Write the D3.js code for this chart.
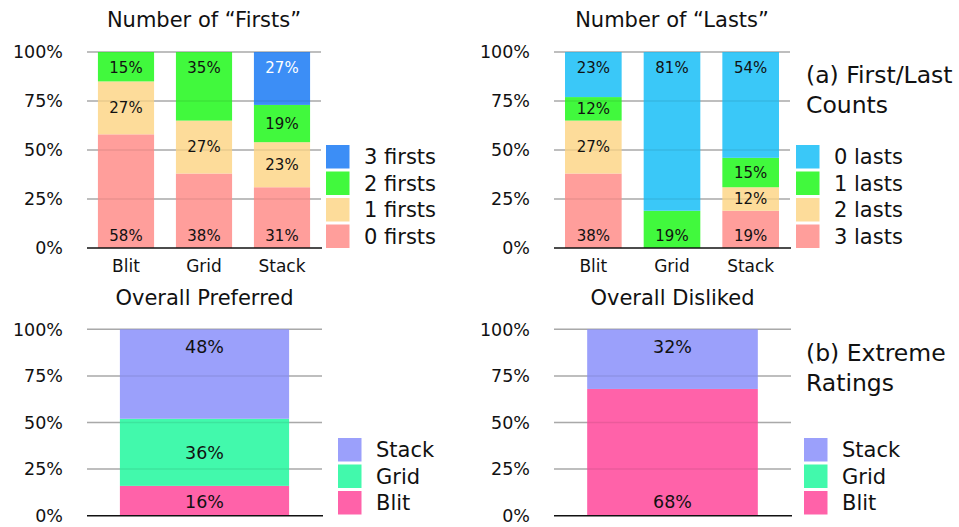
<!DOCTYPE html>
<html><head><meta charset="utf-8">
<script src="https://cdn.jsdelivr.net/npm/d3@7"></script>
<style>
html,body{margin:0;padding:0;background:#fff;}
text{font-family:"DejaVu Sans",sans-serif;fill:#111;}
</style></head>
<body><svg id="c" width="959" height="527"></svg>
<script>
// ---- data ----
const methods = ["Blit", "Grid", "Stack"];
const firstsKeys = ["0 firsts", "1 firsts", "2 firsts", "3 firsts"];
const firstsValues = {
  "0 firsts": [58, 38, 31],
  "1 firsts": [27, 27, 23],
  "2 firsts": [15, 35, 19],
  "3 firsts": [0, 0, 27]
};
const lastsKeys = ["3 lasts", "2 lasts", "1 lasts", "0 lasts"];
const lastsValues = {
  "3 lasts": [38, 0, 19],
  "2 lasts": [27, 0, 12],
  "1 lasts": [12, 19, 15],
  "0 lasts": [23, 81, 54]
};
const ratingKeys = ["Blit", "Grid", "Stack"];
const preferredValues = [16, 36, 48];
const dislikedValues = [68, 0, 32];
const yTicks = [0, 25, 50, 75, 100];
const tickLabels = ["0%", "25%", "50%", "75%", "100%"];

const colors = {
  "0 firsts": "#FF9E9B", "1 firsts": "#FDDC9A", "2 firsts": "#41F93D", "3 firsts": "#3C8EF6",
  "3 lasts": "#FF9E9B", "2 lasts": "#FDDC9A", "1 lasts": "#41F93D", "0 lasts": "#3AC8F8",
  "Blit": "#FF62A9", "Grid": "#42F9AC", "Stack": "#9BA0FB"
};
const whiteLabel = {"3 firsts": true};

const svg = d3.select("#c");

function panel(opt) {
  const g = svg.append("g");
  const x = d3.scaleBand().domain(opt.cats).range([opt.x0, opt.x1]).paddingInner(0.28).paddingOuter(0.14);
  const y = d3.scaleLinear().domain([0, 100]).range([opt.y0, opt.y1]);
  g.selectAll("line.gu").data(yTicks.slice(1)).join("line")
    .attr("x1", opt.x0).attr("x2", opt.x1)
    .attr("y1", d => y(d)).attr("y2", d => y(d))
    .attr("stroke", "#b8b8b8").attr("stroke-width", 1.5);
  const rows = opt.cats.map((c, i) => {
    const r = {cat: c};
    opt.keys.forEach(k => r[k] = opt.values[k][i]);
    return r;
  });
  const series = d3.stack().keys(opt.keys)(rows);
  series.forEach(s => {
    g.selectAll(null).data(s.filter(d => d[1] - d[0] > 0)).join("rect")
      .attr("x", d => x(d.data.cat)).attr("width", x.bandwidth())
      .attr("y", d => y(d[1])).attr("height", d => y(d[0]) - y(d[1]))
      .attr("fill", colors[s.key]);
  });
  g.selectAll("line.go").data(yTicks.slice(1)).join("line")
    .attr("x1", opt.x0).attr("x2", opt.x1)
    .attr("y1", d => y(d)).attr("y2", d => y(d))
    .attr("stroke", "rgba(0,0,0,0.08)").attr("stroke-width", 1.5);
  opt.cats.forEach(c => {
    const segs = [];
    series.forEach(s => {
      const d = s.find(e => e.data.cat === c);
      if (d[1] - d[0] > 0) segs.push({key: s.key, lo: d[0], hi: d[1]});
    });
    segs.forEach((sg, i) => {
      let cy = (y(sg.lo) + y(sg.hi)) / 2;
      if (i === 0 && segs.length > 1) cy = y(sg.lo) - opt.botOff;
      if (i === segs.length - 1 && segs.length > 1) cy = y(sg.hi) + opt.topOff;
      if (segs.length === 1) cy = y(sg.lo) - opt.botOff;
      g.append("text").attr("x", x(c) + x.bandwidth() / 2).attr("y", cy)
        .attr("dy", "0.36em").attr("text-anchor", "middle")
        .style("font-size", opt.labelSize + "px")
        .style("fill", whiteLabel[sg.key] ? "#fff" : "#111")
        .text(Math.round(sg.hi - sg.lo) + "%");
    });
  });
  g.append("line").attr("x1", opt.x0).attr("x2", opt.x1 + 1)
    .attr("y1", y(0)).attr("y2", y(0)).attr("stroke", "#111").attr("stroke-width", 1.5);
  g.selectAll("text.yt").data(yTicks).join("text")
    .attr("x", opt.x0 - 24).attr("y", d => y(d)).attr("dy", "0.36em")
    .attr("text-anchor", "end").style("font-size", "17.5px")
    .text((d, i) => tickLabels[i]);
  if (opt.showCats) {
    g.selectAll("text.xc").data(opt.cats).join("text")
      .attr("x", d => x(d) + x.bandwidth() / 2).attr("y", opt.y0 + 24)
      .attr("text-anchor", "middle").style("font-size", "17px").text(d => d);
  }
  g.append("text").attr("x", (opt.x0 + opt.x1) / 2).attr("y", opt.titleY)
    .attr("text-anchor", "middle").style("font-size", "21px").text(opt.title);
  opt.legend.forEach((k, i) => {
    const ty = opt.legY + i * 26.5;
    g.append("rect").attr("x", opt.legX).attr("y", ty).attr("width", 23.5).attr("height", 23.5)
      .attr("fill", colors[k]);
    g.append("text").attr("x", opt.legX + 38).attr("y", ty + 11.75).attr("dy", "0.36em")
      .style("font-size", "21px").text(k);
  });
  if (opt.note) {
    opt.note.forEach((t, i) => {
      g.append("text").attr("x", opt.noteX).attr("y", opt.noteY + i * 30)
        .style("font-size", "23.5px").text(t);
    });
  }
}

panel({cats: methods, keys: firstsKeys, values: firstsValues,
  x0: 87, x1: 321, y0: 248, y1: 52, showCats: true, labelSize: 15, topOff: 16, botOff: 12.5,
  title: "Number of \u201CFirsts\u201D", titleY: 27,
  legend: ["3 firsts", "2 firsts", "1 firsts", "0 firsts"], legX: 326, legY: 145});

panel({cats: methods, keys: lastsKeys, values: lastsValues,
  x0: 554, x1: 790, y0: 248, y1: 52, showCats: true, labelSize: 15, topOff: 16, botOff: 12.5,
  title: "Number of \u201CLasts\u201D", titleY: 27,
  legend: ["0 lasts", "1 lasts", "2 lasts", "3 lasts"], legX: 796, legY: 145,
  note: ["(a) First/Last", "Counts"], noteX: 806, noteY: 83});

const prefVals = {}; ratingKeys.forEach((k, i) => prefVals[k] = [preferredValues[i]]);
const disVals = {}; ratingKeys.forEach((k, i) => disVals[k] = [dislikedValues[i]]);

panel({cats: ["Overall"], keys: ratingKeys, values: prefVals,
  x0: 87, x1: 322, y0: 515.7, y1: 329.3, showCats: false, labelSize: 17.5, topOff: 17, botOff: 14,
  title: "Overall Preferred", titleY: 305,
  legend: ["Stack", "Grid", "Blit"], legX: 338, legY: 438});

panel({cats: ["Overall"], keys: ratingKeys, values: disVals,
  x0: 554, x1: 791, y0: 515.7, y1: 329.3, showCats: false, labelSize: 17.5, topOff: 17, botOff: 14,
  title: "Overall Disliked", titleY: 305,
  legend: ["Stack", "Grid", "Blit"], legX: 804, legY: 438,
  note: ["(b) Extreme", "Ratings"], noteX: 806, noteY: 361});
</script></body></html>
